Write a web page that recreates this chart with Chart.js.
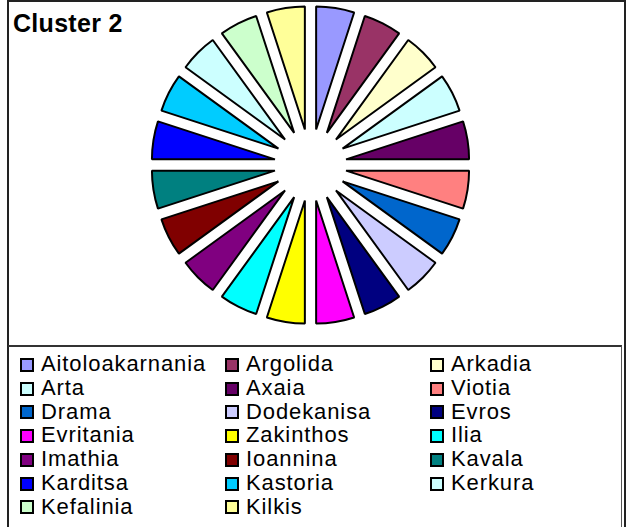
<!DOCTYPE html>
<html>
<head>
<meta charset="utf-8">
<script src="https://cdn.jsdelivr.net/npm/chart.js@4.4.0/dist/chart.umd.min.js"></script>
<style>
  body { margin: 0; background: #fff; font-family: "Liberation Sans", Arial, sans-serif; }
  #frame { position: absolute; left: 7px; top: 0px; width: 615px; height: 540px; border: 2px solid #222; }
  #legendBox { position: absolute; left: 8px; top: 345px; width: 613px; height: 200px; border-top: 2px solid #333; border-right: 1px solid #555; }
  #title { position: absolute; left: 13px; top: 11px; font-size: 25px; font-weight: bold; line-height: 1; letter-spacing: 0.3px; color: #000; }
  #chart { position: absolute; left: 0; top: 0; }
  .item { position: absolute; font-size: 22px; line-height: 1; letter-spacing: 0.9px; color: #000; white-space: nowrap; }
  .box { position: absolute; width: 14px; height: 14px; box-sizing: border-box; border: 2px solid #000; }
</style>
</head>
<body>
<div id="frame"></div>
<div id="legendBox"></div>
<div id="title">Cluster 2</div>
<canvas id="chart" width="626" height="346"></canvas>
<div id="legend"></div>
<script>
/* data */
const labels = [
    "Aitoloakarnania", "Argolida", "Arkadia", "Arta", "Axaia", "Viotia",
    "Drama", "Dodekanisa", "Evros", "Evritania", "Zakinthos", "Ilia",
    "Imathia", "Ioannina", "Kavala", "Karditsa", "Kastoria", "Kerkura",
    "Kefalinia", "Kilkis"
];

const values = [1, 1, 1, 1, 1, 1, 1, 1, 1, 1, 1, 1, 1, 1, 1, 1, 1, 1, 1, 1];

const colors = [
    "#9999FF", "#993366", "#FFFFCC", "#CCFFFF", "#660066", "#FF8080",
    "#0066CC", "#CCCCFF", "#000080", "#FF00FF", "#FFFF00", "#00FFFF",
    "#800080", "#800000", "#008080", "#0000FF", "#00CCFF", "#CCFFFF",
    "#CCFFCC", "#FFFF99"
];

// hoe ver elk stuk naar buiten schuift (zoals "exploded pie" in Excel)
const explode = 36;

const explodePlugin = {
    id: "explode",
    beforeDatasetDraw: function (chart, args) {
        const ctx = chart.ctx;
        args.meta.data.forEach(function (arc) {
            const mid = (arc.startAngle + arc.endAngle) / 2;
            ctx.save();
            ctx.translate(Math.cos(mid) * explode, Math.sin(mid) * explode);
            arc.draw(ctx);
            ctx.restore();
        });
        return false;
    }
};

/* Chart */
const data = {
    labels: labels,
    datasets: [
        {
            label: "Cluster 2",
            data: values,
            backgroundColor: colors,
            borderColor: "#000",
            borderWidth: 2,
            borderJoinStyle: "bevel",
            hoverOffset: 0
        }
    ]
};

const config = {
    type: "pie",
    data: data,
    options: {
        responsive: false,
        animation: false,
        radius: 123,
        layout: { padding: { left: 0, right: 5, top: 0, bottom: 16 } },
        plugins: {
            legend: { display: false },
            tooltip: { enabled: false }
        }
    },
    plugins: [explodePlugin]
};

const chart = new Chart(document.getElementById("chart"), config);

/* legend in 3 kolommen */
const legend = document.getElementById("legend");
const colX = [20, 225, 430];
const items = chart.options.plugins.legend.labels.generateLabels(chart);
items.forEach(function (it, i) {
    var col = i % 3;
    var row = Math.floor(i / 3);
    var y = 358 + row * 23.7;

    var box = document.createElement("div");
    box.className = "box";
    box.style.left = colX[col] + "px";
    box.style.top = y + "px";
    box.style.background = it.fillStyle;
    legend.appendChild(box);

    var txt = document.createElement("div");
    txt.className = "item";
    txt.style.left = (colX[col] + 21) + "px";
    txt.style.top = (y - 4.7) + "px";
    txt.textContent = it.text;
    legend.appendChild(txt);
});
</script>
</body>
</html>
